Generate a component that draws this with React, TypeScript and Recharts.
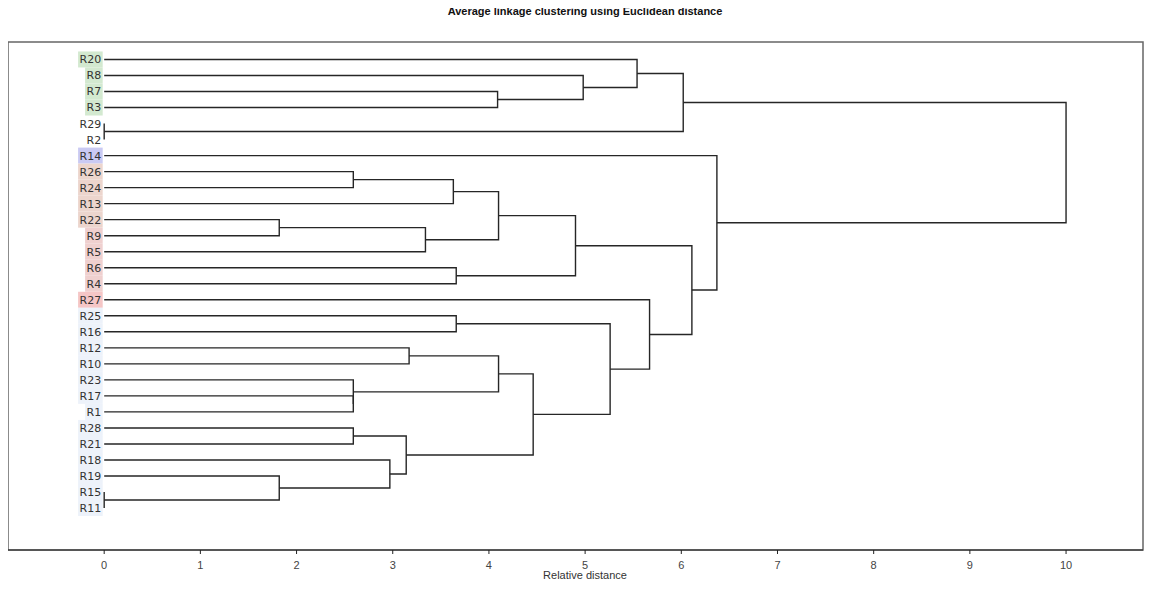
import { ComposedChart, Line, Scatter, XAxis, YAxis, ReferenceArea } from 'recharts';

// leaf order, top to bottom
const leaves = [
  'R20', 'R8', 'R7', 'R3', 'R29', 'R2', 'R14', 'R26', 'R24', 'R13', 'R22', 'R9', 'R5', 'R6', 'R4',
  'R27', 'R25', 'R16', 'R12', 'R10', 'R23', 'R17', 'R1', 'R28', 'R21', 'R18', 'R19', 'R15', 'R11',
];

// label highlight per leaf
const leafColors = [
  '#d3e9d0', '#d3e9d0', '#d3e9d0', '#d3e9d0', 'none', 'none', '#cacaf3', '#ecd5cd', '#ecd5cd',
  '#ecd5cd', '#ecd5cd', '#efd0cf', '#efd0cf', '#efd0cf', '#efd0cf', '#f5c6c6', '#edf2fa', '#edf2fa',
  '#edf2fa', '#edf2fa', '#edf2fa', '#edf2fa', '#edf2fa', '#edf2fa', '#edf2fa', '#edf2fa', '#edf2fa',
  '#edf2fa', '#edf2fa',
];

// merge steps: [left, right, height]; the n-th step creates node 'n' + n
const merges: [string, string, number][] = [
  ['R29', 'R2', 0],
  ['R15', 'R11', 0],
  ['R22', 'R9', 1.82],
  ['R19', 'n2', 1.82],
  ['R26', 'R24', 2.59],
  ['R17', 'R1', 2.59],
  ['R23', 'n6', 2.59],
  ['R28', 'R21', 2.59],
  ['R18', 'n4', 2.97],
  ['n8', 'n9', 3.14],
  ['R12', 'R10', 3.17],
  ['n3', 'R5', 3.34],
  ['n5', 'R13', 3.63],
  ['R6', 'R4', 3.66],
  ['R25', 'R16', 3.66],
  ['R7', 'R3', 4.09],
  ['n13', 'n12', 4.1],
  ['n11', 'n7', 4.1],
  ['n18', 'n10', 4.46],
  ['n17', 'n14', 4.9],
  ['R8', 'n16', 4.98],
  ['n15', 'n19', 5.26],
  ['R20', 'n21', 5.54],
  ['R27', 'n22', 5.67],
  ['n23', 'n1', 6.02],
  ['n20', 'n24', 6.11],
  ['R14', 'n26', 6.37],
  ['n25', 'n27', 10.0],
];

const xTicks = [0, 1, 2, 3, 4, 5, 6, 7, 8, 9, 10];

const pos: Record<string, { x: number; y: number }> = {};
leaves.forEach((l, i) => (pos[l] = { x: 0, y: i }));
const links = merges.map(([a, b, h], i) => {
  const pa = pos[a];
  const pb = pos[b];
  pos['n' + (i + 1)] = { x: h, y: (pa.y + pb.y) / 2 };
  return [
    { x: pa.x, y: pa.y },
    { x: h, y: pa.y },
    { x: h, y: pb.y },
    { x: pb.x, y: pb.y },
  ];
});

const leafData = leaves.map((name, i) => ({ x: 0, y: i, name, fill: leafColors[i] }));

const LeafLabel = (props: any) => {
  const { cx, cy, payload } = props;
  const w = 7.6 + 7 * (payload.name.length - 1);
  const right = cx - 3;
  return (
    <g>
      {payload.fill !== 'none' && (
        <rect x={right - w - 1.5} y={cy - 8} width={w + 3} height={16} fill={payload.fill} />
      )}
      <text x={right} y={cy} dy="0.36em" textAnchor="end" fontSize={11} fontFamily="DejaVu Sans" fill="#333">
        {payload.name}
      </text>
    </g>
  );
};

export default function App() {
  return (
    <div style={{ margin: -8, position: 'relative', width: 1153, height: 590, background: '#fff', overflow: 'hidden' }}>
      <div
        style={{
          position: 'absolute',
          top: 5,
          left: 0,
          width: 1170,
          textAlign: 'center',
          fontFamily: "'Liberation Sans Narrow', 'Liberation Sans', Arial, sans-serif",
          fontWeight: 'bold',
          fontSize: 11,
          color: '#111',
        }}
      >
        Average linkage clustering using Euclidean distance
      </div>
      <div
        style={{
          position: 'absolute',
          top: 569,
          left: 0,
          width: 1170,
          textAlign: 'center',
          fontFamily: "'Liberation Sans', Arial, sans-serif",
          fontSize: 11,
          lineHeight: '13px',
          color: '#333',
        }}
      >
        Relative distance
      </div>
      <ComposedChart width={1153} height={590} margin={{ top: 42, right: 10, bottom: 0, left: 8 }}>
        <XAxis
          type="number"
          dataKey="x"
          domain={[-1, 10.8]}
          ticks={xTicks}
          allowDataOverflow
          height={40}
          tickSize={4}
          tickMargin={7}
          stroke="#222"
          tick={{ fill: '#444', fontSize: 11, fontFamily: "'Liberation Sans', Arial" }}
        />
        <YAxis type="number" dataKey="y" domain={[-1.09, 30.62]} reversed allowDataOverflow hide />
        <ReferenceArea x1={-1} x2={10.8} y1={-1.09} y2={30.62} fill="none" stroke="#666" strokeWidth={1.5} />
        {links.map((d, i) => (
          <Line
            key={i}
            data={d}
            dataKey="y"
            type="linear"
            stroke="#262626"
            strokeWidth={1.4}
            dot={false}
            activeDot={false}
            isAnimationActive={false}
          />
        ))}
        <Scatter data={leafData} dataKey="y" shape={LeafLabel} isAnimationActive={false} />
      </ComposedChart>
    </div>
  );
}
